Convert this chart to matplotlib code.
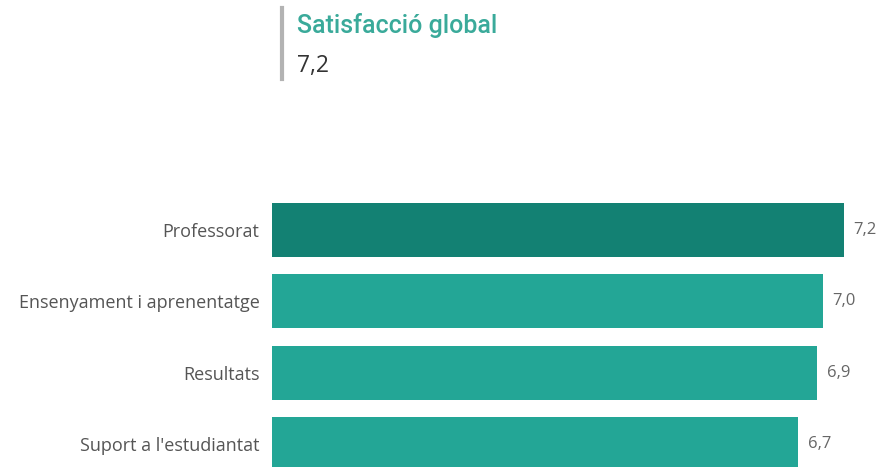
import matplotlib.pyplot as plt
from matplotlib.lines import Line2D

categories = ["Professorat", "Ensenyament i aprenentatge", "Resultats", "Suport a l'estudiantat"]
values = [7.24, 6.97, 6.90, 6.66]
colors = ["#138173", "#23A696", "#23A696", "#23A696"]
title_text = "Satisfacció global"
title_value = "7,2"

W, H = 884, 467
fig = plt.figure(figsize=(W / 100, H / 100), dpi=100)

# header card
fig.add_artist(Line2D([282 / W, 282 / W], [1 - 8 / H, 1 - 79 / H], color="#b3b3b3", lw=3))
fig.text(297 / W, 1 - 25 / H, title_text, ha="left", va="center", fontsize=18,
         fontweight="medium", color="#3aaa9a", family="Roboto")
fig.text(297 / W, 1 - 66 / H, title_value, ha="left", va="center", fontsize=16.5,
         color="#333333", family="Open Sans")

# bars
xmax = 7.6
ax = fig.add_axes([272 / W, 0, xmax * 79 / W, 277 / H])
y = list(range(len(categories)))
ax.barh(y, values, height=0.755, color=colors)
ax.set_xlim(0, xmax)
ax.set_ylim(3.32, -0.56)
for i, v in enumerate(values):
    ax.text(v + 0.12, i, f"{v:.1f}".replace(".", ","), va="center", ha="left",
            fontsize=12, color="#666666", family="Open Sans")
ax.set_yticks(y)
ax.set_yticklabels(categories, fontsize=13, color="#555555", family="Open Sans")
ax.tick_params(axis="y", length=0, pad=9)
ax.set_xticks([])
for s in ax.spines.values():
    s.set_visible(False)

fig.savefig("out.png", dpi=100)
